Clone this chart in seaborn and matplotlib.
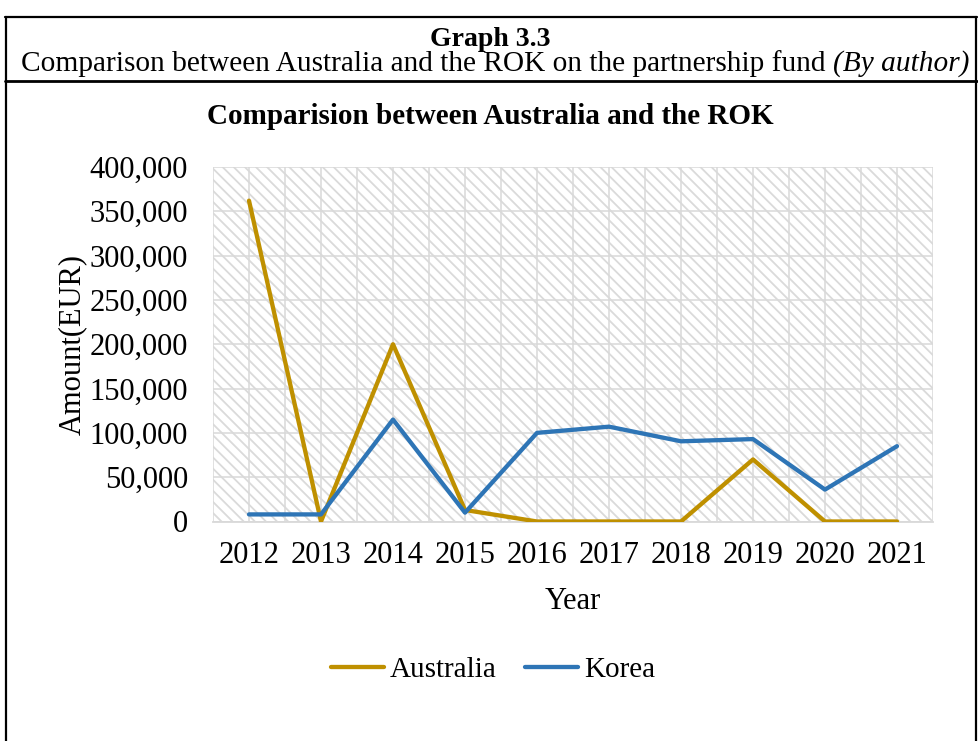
import matplotlib
matplotlib.use("Agg")
import matplotlib.pyplot as plt
from matplotlib.patches import Rectangle
from matplotlib.lines import Line2D
import numpy as np
import pandas as pd
import seaborn as sns

# ---- data -------------------------------------------------------------
years = [2012, 2013, 2014, 2015, 2016, 2017, 2018, 2019, 2020, 2021]
australia = [362000, 0, 200000, 13000, 0, 0, 0, 70000, 0, 0]
korea = [8000, 8000, 115000, 10000, 100000, 107000, 90500, 93000, 36000, 85000]
series_names = ["Australia", "Korea"]
y_ticks = [0, 50000, 100000, 150000, 200000, 250000, 300000, 350000, 400000]

header_title = "Graph 3.3"
header_sub = "Comparison between Australia and the ROK on the partnership fund"
header_sub_italic = "(By author)"
chart_title = "Comparision between Australia and the ROK"

df = pd.DataFrame({
    "Year": years * 2,
    "Amount": australia + korea,
    "Country": [series_names[0]] * len(years) + [series_names[1]] * len(years),
})

palette = {"Australia": "#BF9000", "Korea": "#2E75B6"}

# ---- style ------------------------------------------------------------
sns.set_theme(style="white")
plt.rcParams["font.family"] = ["Liberation Serif", "DejaVu Serif"]
plt.rcParams["text.color"] = "black"
plt.rcParams["axes.labelcolor"] = "black"
plt.rcParams["xtick.color"] = "black"
plt.rcParams["ytick.color"] = "black"
plt.rcParams["hatch.linewidth"] = 1.3
plt.rcParams["hatch.color"] = "#DADADA"

W, H = 979, 741
fig = plt.figure(figsize=(W / 100, H / 100), dpi=100)
fig.patch.set_facecolor("white")

def fx(px):
    return px / W

def fy(py):
    return 1 - py / H

# plot area
ax_left, ax_right, ax_top, ax_bottom = 213, 933, 167, 521.5
ax = fig.add_axes([fx(ax_left), fy(ax_bottom), fx(ax_right - ax_left), (ax_bottom - ax_top) / H])
ax.set_facecolor("white")

# diagonal pattern fill of the plot area
ax.add_patch(Rectangle((0, 0), 1, 1, transform=ax.transAxes, facecolor="white",
                       edgecolor="#DADADA", hatch="\\\\\\", linewidth=0, zorder=0))

sns.lineplot(data=df, x="Year", y="Amount", hue="Country", palette=palette,
             linewidth=3.1, ax=ax, legend=False, zorder=3)
for ln in ax.lines:
    ln.set_solid_capstyle("round")
    ln.set_solid_joinstyle("round")

ax.set_xlim(years[0] - 0.5, years[-1] + 0.5)
ax.set_ylim(0, 400000)
ax.set_xticks(years)
ax.set_xticklabels([str(y) for y in years], fontsize=22)
ax.set_xticks([y - 0.5 for y in years] + [years[-1] + 0.5], minor=True)
ax.set_yticks(y_ticks)
ax.set_yticklabels([f"{v:,}" for v in y_ticks], fontsize=22)
ax.tick_params(axis="both", which="both", length=0)
ax.tick_params(axis="x", pad=14)
ax.tick_params(axis="y", pad=18)
ax.grid(True, which="both", color="#D9D9D9", linewidth=1.1, zorder=1)
ax.set_axisbelow(True)
for side in ["top", "right", "left"]:
    ax.spines[side].set_visible(False)
ax.spines["bottom"].set_color("#D9D9D9")
ax.spines["bottom"].set_linewidth(1.3)

ax.set_xlabel("Year", fontsize=22, labelpad=12)
ax.set_ylabel("Amount(EUR)", fontsize=22, labelpad=1.5)

# legend below the plot
handles = [Line2D([0], [0], color=palette[n], linewidth=3.1, solid_capstyle="round")
           for n in series_names]
fig.legend(handles, series_names, loc="center", bbox_to_anchor=(fx(493), fy(670)),
           ncol=2, frameon=False, fontsize=21, handlelength=1.8,
           handletextpad=0.2, columnspacing=1.0)

# chart title
fig.text(fx(490), fy(117), chart_title, ha="center", va="center",
         fontsize=21, fontweight="bold")

# document header above the chart
fig.text(fx(490), fy(40), header_title, ha="center", va="center",
         fontsize=20, fontweight="bold")
t1 = fig.text(0, fy(64), header_sub, ha="left", va="center", fontsize=21.2)
t2 = fig.text(0, fy(64), header_sub_italic, ha="left", va="center", fontsize=21.2,
              fontstyle="italic")
fig.canvas.draw()
r = fig.canvas.get_renderer()
w1 = t1.get_window_extent(r).width
w2 = t2.get_window_extent(r).width
gap = 7
start = 495 - (w1 + gap + w2) / 2
t1.set_x(fx(start))
t2.set_x(fx(start + w1 + gap))

# frame lines around the header and chart box
border = dict(color="black", transform=fig.transFigure, clip_on=False)
fig.add_artist(Line2D([fx(5), fx(977)], [fy(17), fy(17)], linewidth=1.6, **border))
fig.add_artist(Line2D([fx(5), fx(977)], [fy(81), fy(81)], linewidth=2.0, **border))
fig.add_artist(Line2D([fx(6), fx(6)], [fy(17), fy(741)], linewidth=1.6, **border))
fig.add_artist(Line2D([fx(976), fx(976)], [fy(17), fy(741)], linewidth=1.6, **border))

fig.savefig("out.png", dpi=100)
